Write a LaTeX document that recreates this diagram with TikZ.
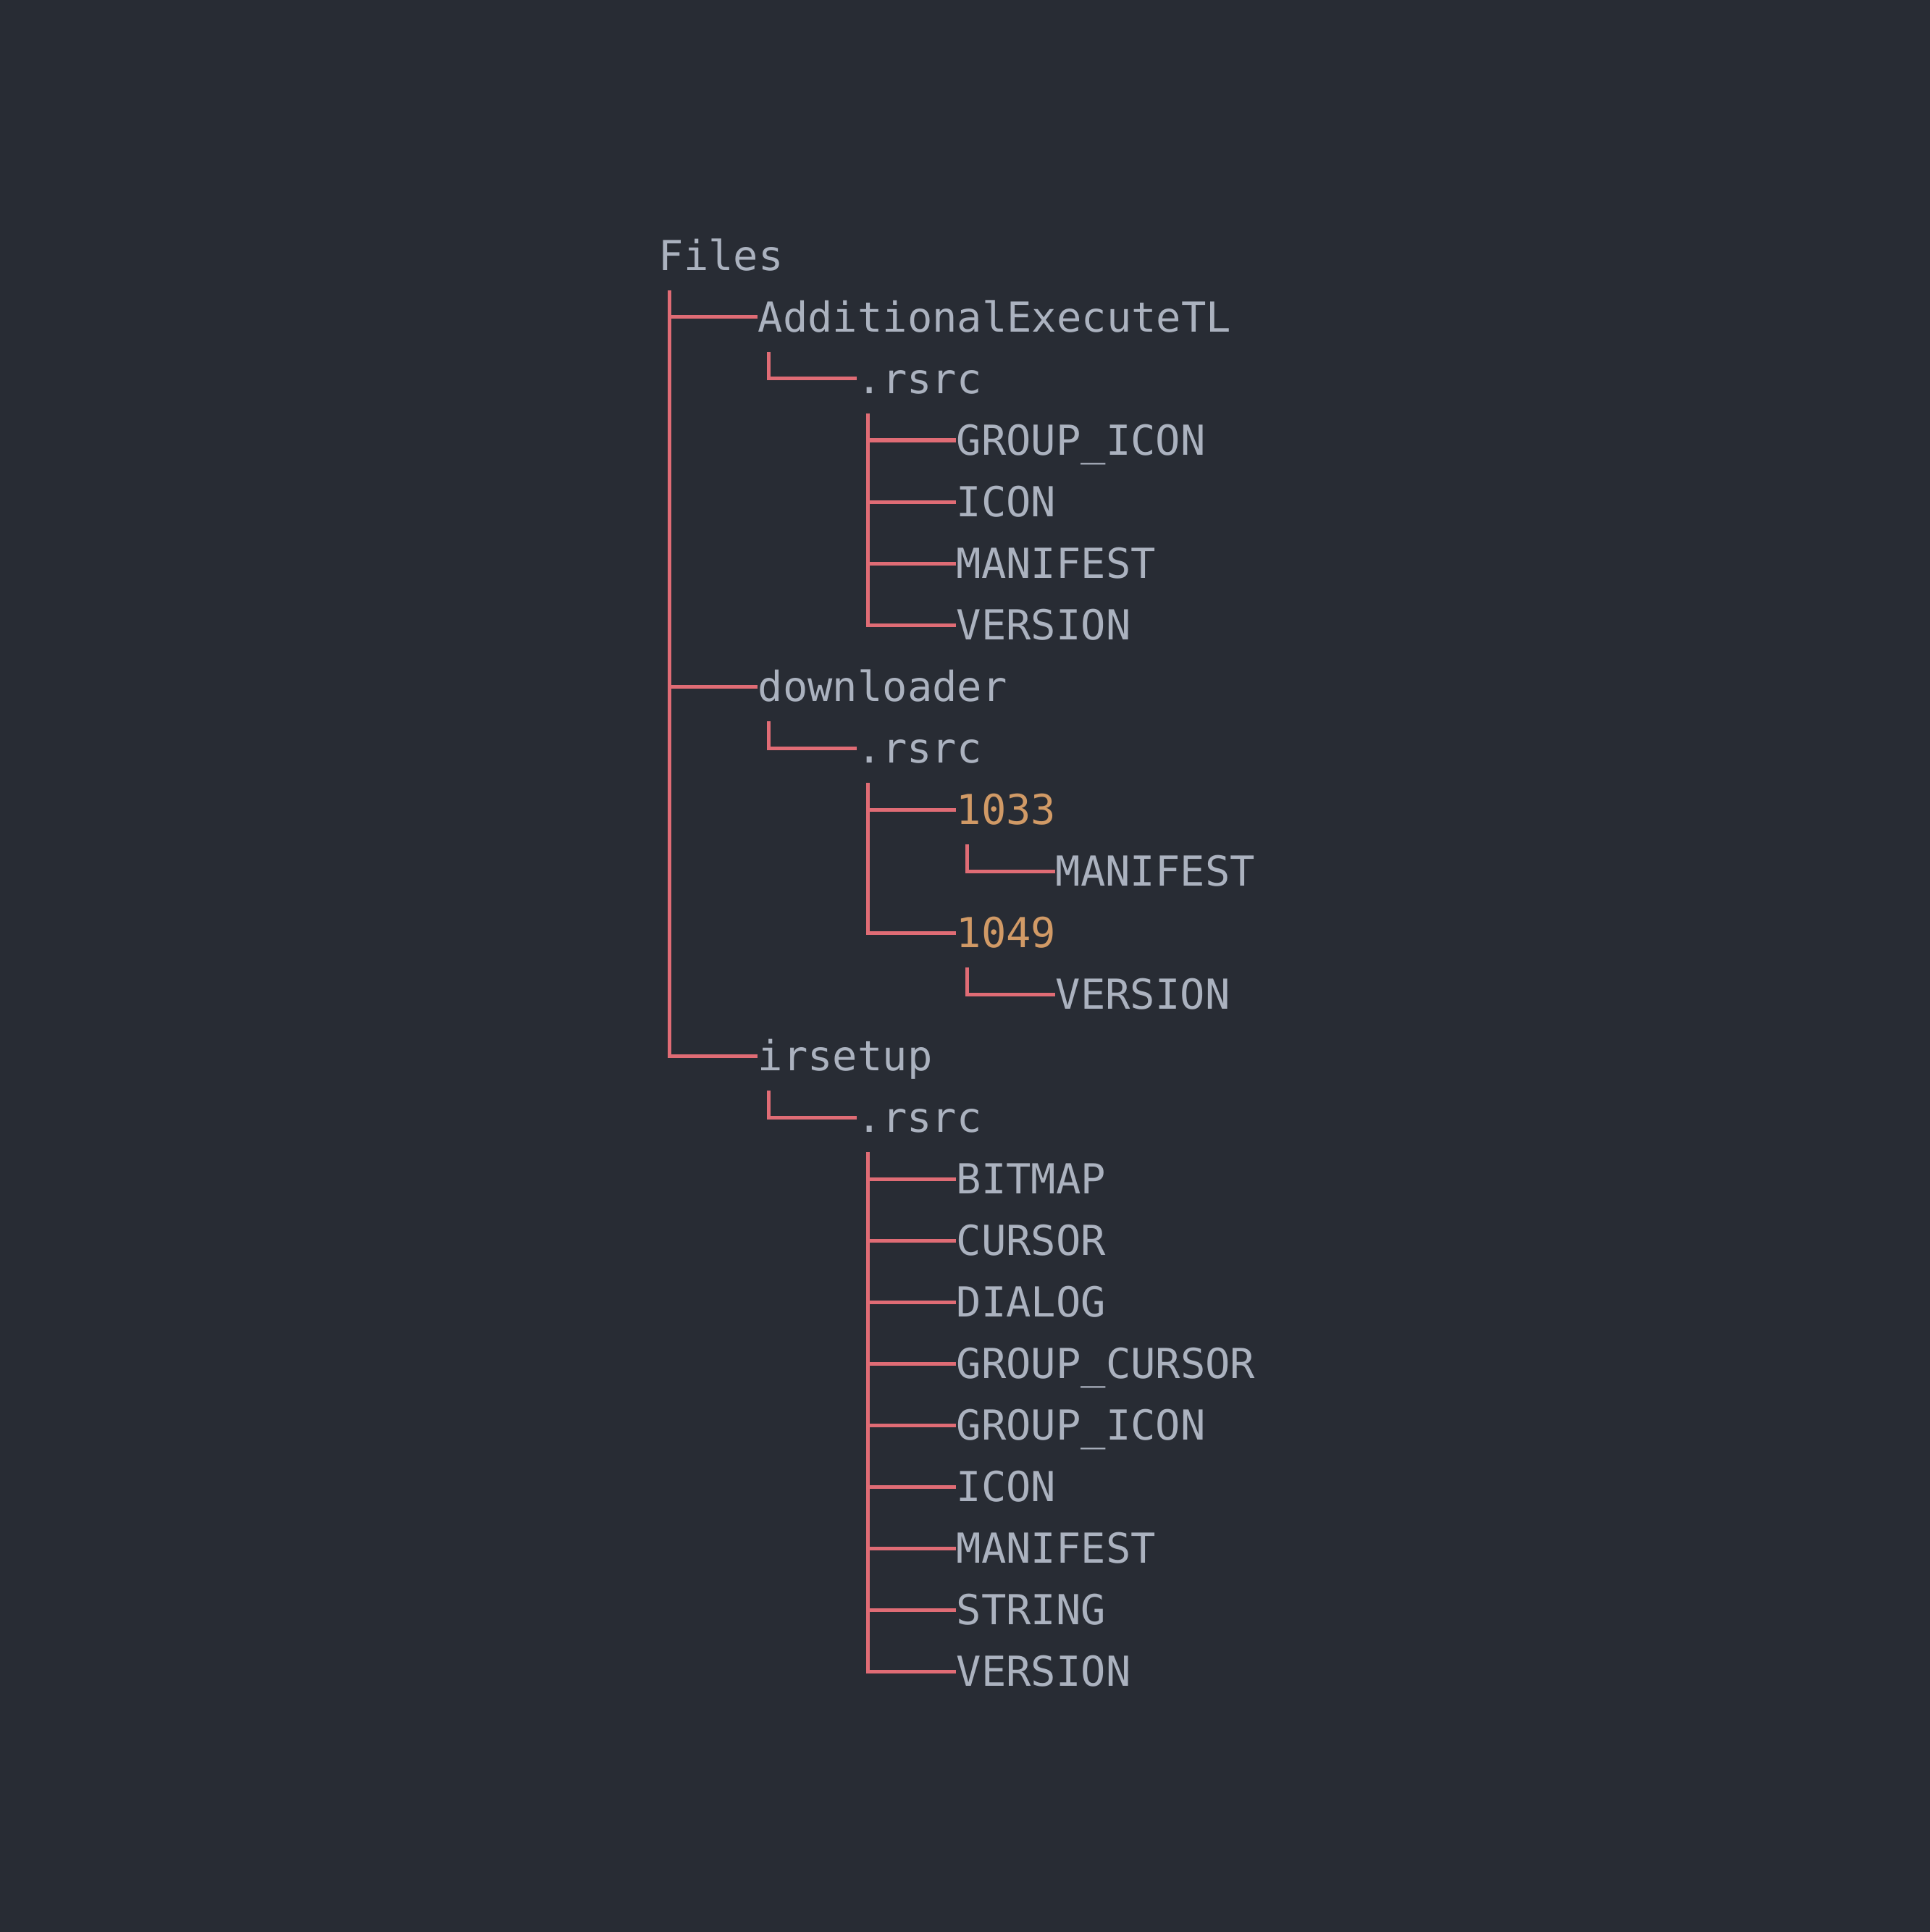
\documentclass[tikz,border=0pt]{standalone}
\usepackage{xcolor}
\usepackage{fontspec}
\setmonofont{DejaVu Sans Mono}
\usepackage{tikz}
\usetikzlibrary{calc}
\definecolor{darkbg}{HTML}{282C34}
\definecolor{lightgray}{HTML}{ABB2BF}
\definecolor{branchred}{HTML}{E06C75}
\definecolor{numorange}{HTML}{D19A66}

\tikzset{
  entry/.style={anchor=west, inner sep=0pt, text height=0.41cm, text depth=0pt,
                font=\ttfamily\fontsize{16.25}{16.25}\selectfont, text=lightgray},
  number/.style={entry, text=numorange},
  branch/.style={draw=branchred, line width=0.05cm}
}
% elbow from a parent down to one of its children
\newcommand{\branchto}[2]{\draw[branch] ($(#1.west)+(0.155,-0.48)$) |- (#2.west);}

\begin{document}
\begin{tikzpicture}
    \useasboundingbox (0,0) rectangle (26.64,-26.68);
    \fill[darkbg] (-0.2,0.2) rectangle (26.84,-26.88);

    \node[entry] (files) at (9.09,-3.53) {Files};
    \node[entry] (addexec) at (10.46,-4.38) {AdditionalExecuteTL};
    \node[entry] (rsrcA) at (11.83,-5.23) {.rsrc};
    \node[entry] (groupiconA) at (13.2,-6.08) {GROUP\_ICON};
    \node[entry] (iconA) at (13.2,-6.93) {ICON};
    \node[entry] (manifestA) at (13.2,-7.78) {MANIFEST};
    \node[entry] (versionA) at (13.2,-8.63) {VERSION};
    \node[entry] (downloader) at (10.46,-9.48) {downloader};
    \node[entry] (rsrcB) at (11.83,-10.33) {.rsrc};
    \node[number] (langA) at (13.2,-11.18) {1033};
    \node[entry] (manifestB) at (14.57,-12.03) {MANIFEST};
    \node[number] (langB) at (13.2,-12.88) {1049};
    \node[entry] (versionB) at (14.57,-13.73) {VERSION};
    \node[entry] (irsetup) at (10.46,-14.58) {irsetup};
    \node[entry] (rsrcC) at (11.83,-15.43) {.rsrc};
    \node[entry] (bitmapC) at (13.2,-16.28) {BITMAP};
    \node[entry] (cursorC) at (13.2,-17.13) {CURSOR};
    \node[entry] (dialogC) at (13.2,-17.98) {DIALOG};
    \node[entry] (groupcursorC) at (13.2,-18.83) {GROUP\_CURSOR};
    \node[entry] (groupiconC) at (13.2,-19.68) {GROUP\_ICON};
    \node[entry] (iconC) at (13.2,-20.53) {ICON};
    \node[entry] (manifestC) at (13.2,-21.38) {MANIFEST};
    \node[entry] (stringC) at (13.2,-22.23) {STRING};
    \node[entry] (versionC) at (13.2,-23.08) {VERSION};

    % top level
    \branchto{files}{addexec}
    \branchto{files}{downloader}
    \branchto{files}{irsetup}
    % AdditionalExecuteTL
    \branchto{addexec}{rsrcA}
    \branchto{rsrcA}{groupiconA}
    \branchto{rsrcA}{iconA}
    \branchto{rsrcA}{manifestA}
    \branchto{rsrcA}{versionA}
    % downloader
    \branchto{downloader}{rsrcB}
    \branchto{rsrcB}{langA}
    \branchto{rsrcB}{langB}
    \branchto{langA}{manifestB}
    \branchto{langB}{versionB}
    % irsetup
    \branchto{irsetup}{rsrcC}
    \branchto{rsrcC}{bitmapC}
    \branchto{rsrcC}{cursorC}
    \branchto{rsrcC}{dialogC}
    \branchto{rsrcC}{groupcursorC}
    \branchto{rsrcC}{groupiconC}
    \branchto{rsrcC}{iconC}
    \branchto{rsrcC}{manifestC}
    \branchto{rsrcC}{stringC}
    \branchto{rsrcC}{versionC}
\end{tikzpicture}
\end{document}
